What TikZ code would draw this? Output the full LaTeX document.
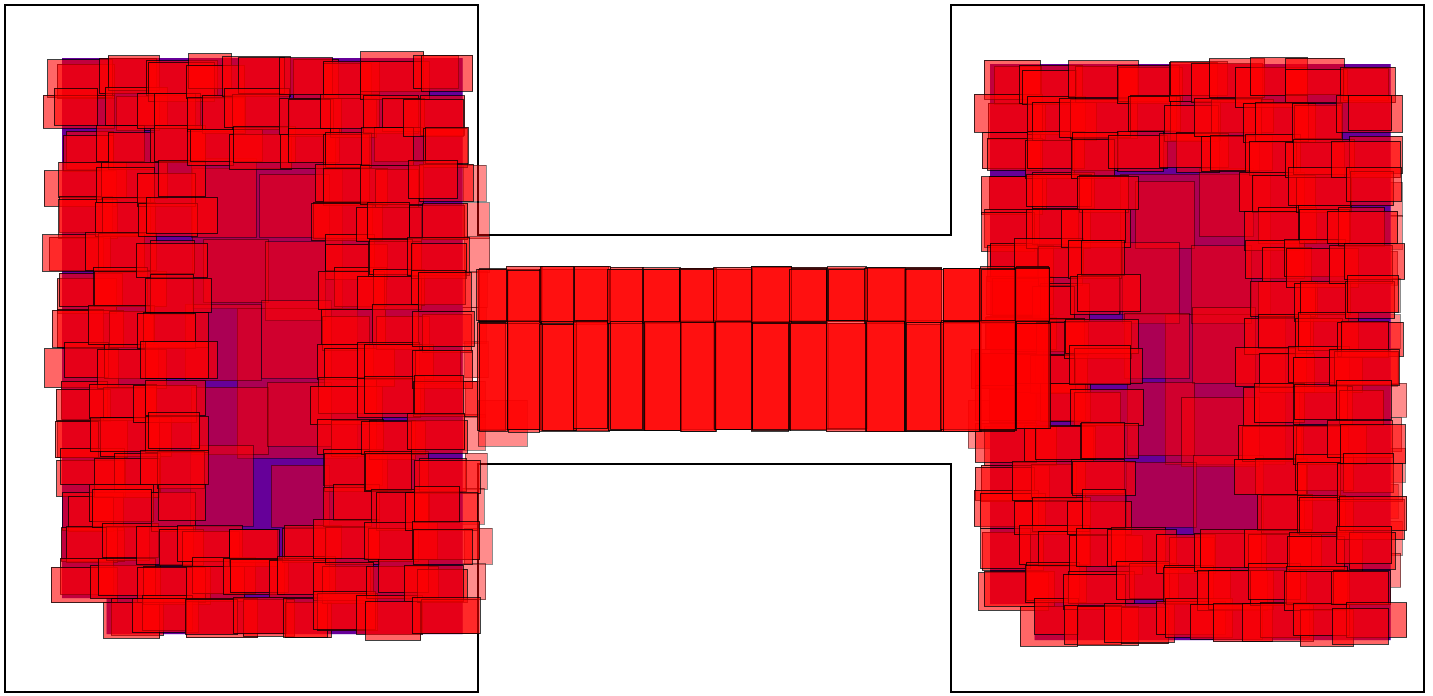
\documentclass[tikz,border=0pt]{standalone}
\begin{document}
\tikzset{
  rr/.style={fill=red, fill opacity=0.6, draw=black, draw opacity=0.75, line width=0.7pt},
  rrp/.style={fill=red, fill opacity=0.45, draw=black, draw opacity=0.45, line width=0.5pt},
  rcover/.style={fill=red, fill opacity=0.4},
  bq/.style={fill=blue},
  wall/.style={draw=black, line width=1.2pt}
}
\newcommand\drawmass[2]{%
  % blue base squares and a translucent red cover over them
  \fill[bq] (#1,#2) -- ++(400.5,0) -- ++(0,576) -- ++(-356,0) -- ++(0,-36) -- ++(-44.5,0) -- cycle;
  \fill[rcover] (#1,#2) -- ++(400.5,0) -- ++(0,576) -- ++(-356,0) -- ++(0,-36) -- ++(-44.5,0) -- cycle;
  % big interior rectangles
  \draw[rrp] ({#1+130},{#2+110}) rectangle ++(150,140);
  \draw[rrp] ({#1+175},{#2+250}) rectangle ++(120,150);
  \foreach \j in {3,5,...,11}{\foreach \i in {3,4.5}{%
    \pgfmathsetmacro\w{66+12*rand}%
    \pgfmathsetmacro\h{72+10*rand}%
    \pgfmathsetmacro\cx{#1+44.5*(\i+0.75)+8*rand}%
    \pgfmathsetmacro\cy{#2+36*(\j+1)+8*rand}%
    \draw[rrp] ({\cx-\w/2},{\cy-\h/2}) rectangle ++(\w,\h);
  }}
  % ring rectangles
  \foreach \i in {0,...,8}{\foreach \j in {0,...,15}{%
    \pgfmathtruncatemacro\ring{(\i<3)||(\i>5)||(\j<3)||(\j>12)}%
    \pgfmathtruncatemacro\skipc{(\i==0)&&(\j==15)}%
    \ifnum\ring=1 \ifnum\skipc=0
      \foreach \k in {1,2}{%
        \pgfmathsetmacro\w{44.5*(1.3+0.35*rand)}%
        \pgfmathsetmacro\h{36*(1.0+0.1*rand)}%
        \pgfmathsetmacro\cx{#1+44.5*(\i+0.5)+9*rand}%
        \pgfmathsetmacro\cy{#2+36*(\j+0.5)+6*rand}%
        \draw[rr] ({\cx-\w/2},{\cy-\h/2}) rectangle ++(\w,\h);
      }
    \fi\fi
  }}
}
\begin{tikzpicture}[x=1pt,y=-1pt]
\useasboundingbox (0,0) rectangle (1433,696);
\pgfmathsetseed{4242}
\draw[wall] (5,5) -- (478,5) -- (478,235) -- (951,235) -- (951,5) -- (1424,5)
  -- (1424,692) -- (951,692) -- (951,464) -- (478,464) -- (478,692) -- (5,692) -- cycle;
% pale side rectangles
\foreach \j in {0,...,11}{\draw[rrp] ({462+4*rand},{165+36*\j+4*rand}) rectangle ++({24+4*rand},36);}
\foreach \j in {0,...,11}{\draw[rrp] ({1365+4*rand},{180+34*\j+4*rand}) rectangle ++({35+4*rand},34);}
\draw[rrp] (478,400) rectangle (527,446);
\draw[rrp] (968,400) rectangle (1000,448);
% left and right masses
\drawmass{62}{58}
\drawmass{990}{64}
% corridor
\foreach \a/\b in {478/507,507/541,541/575,575/609,609/644,644/680,680/715,715/752,752/790,790/827,827/866,866/905,905/942,942/980,980/1015,1015/1050}{%
  \foreach \k in {1,2,3}{%
    \draw[rr] ({\a+1.5*rand},{268+2*rand}) rectangle ({\b+1.5*rand},{322+2*rand});
    \draw[rr] ({\a+1.5*rand},{322+2*rand}) rectangle ({\b+1.5*rand},{430+2*rand});
  }}
\end{tikzpicture}
\end{document}
